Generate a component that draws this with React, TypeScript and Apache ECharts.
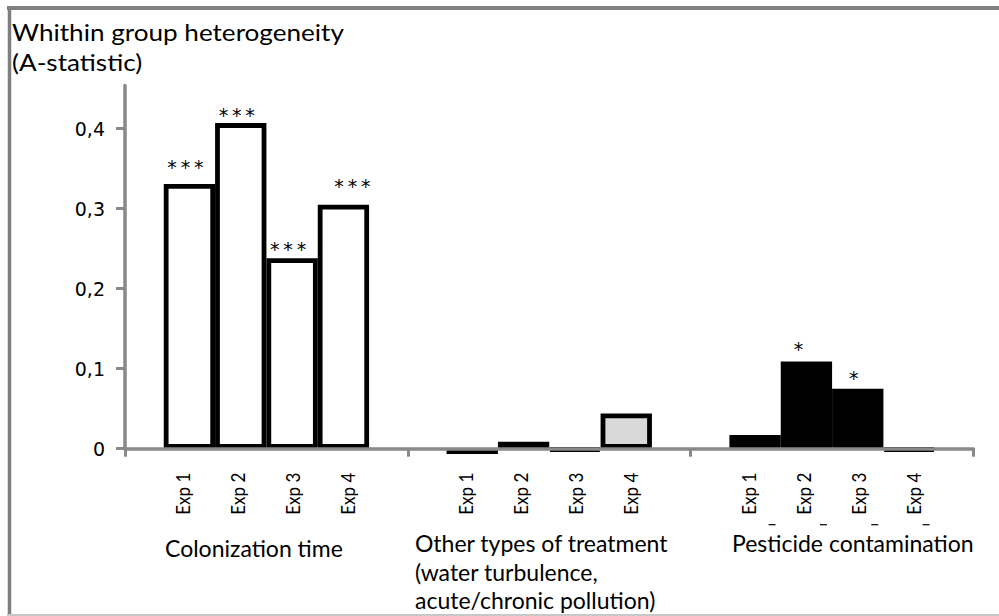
import React, { useEffect, useRef } from "react";
import * as echarts from "echarts";

// ---- data ----
const groupNames = ["Colonization time", "Other types of treatment", "Pesticide contamination"];
const groupTitleLines = [
  ["Colonization time"],
  ["Other types of treatment", "(water turbulence,", "acute/chronic pollution)"],
  ["Pesticide contamination"],
];
const expLabels = ["Exp 1", "Exp 2", "Exp 3", "Exp 4"];
const colonization = [0.331, 0.407, 0.238, 0.305];
const otherTreatment = [-0.0066, 0.0088, -0.002, 0.044];
const pesticide = [0.017, 0.109, 0.075, -0.002];
const colonizationSig = ["***", "***", "***", "***"];
const otherSig = ["", "", "", ""];
const pesticideSig = ["", "*", "*", ""];
const yTickValues = [0, 0.1, 0.2, 0.3, 0.4];
const yTickLabels = ["0", "0,1", "0,2", "0,3", "0,4"];
const titleLines = ["Whithin group heterogeneity", "(A-statistic)"];

// ---- layout / style ----
const groupValues = [colonization, otherTreatment, pesticide];
const groupSig = [colonizationSig, otherSig, pesticideSig];
const groupFill = ["#ffffff", "#d9d9d9", "#000000"];
const sigOffsets = [
  [[-4, -2], [-4, 6], [-4, 5], [9, -4]],
  [[0, 0], [0, 0], [0, 0], [0, 0]],
  [[0, 0], [-8, 2], [-4, 4], [0, 0]],
];
const groupTitleLeft = [165, 415, 732];
const groupTitleY = [547.5, 543, 543];
const AXIS = "#898989";
const FONT = "Lato";
const CAT_GAP = 0.274;
const LABEL_STEP = 0.1943;

export default function App() {
  const ref = useRef<HTMLDivElement>(null);
  useEffect(() => {
    if (!ref.current) return;
    const chart = echarts.init(ref.current, undefined, { renderer: "svg" });

    const barSeries = expLabels.map((name, k) => ({
      type: "bar",
      name,
      clip: false,
      barGap: "0%",
      barCategoryGap: CAT_GAP * 100 + "%",
      z: 2,
      label: {
        show: true,
        position: "top",
        distance: 5,
        fontFamily: "DejaVu Sans",
        fontSize: 19,
        color: "#000",
      },
      data: groupValues.map((vals, g) => ({
        value: vals[k],
        itemStyle: { color: groupFill[g], borderColor: "#000", borderWidth: 4.8 },
        label: {
          show: groupSig[g][k] !== "",
          formatter: groupSig[g][k].split("").join("\u2009"),
          offset: sigOffsets[g][k],
        },
      })),
    }));

    const labelData: number[][] = [];
    groupNames.forEach((_, g) => expLabels.forEach((__, k) => labelData.push([g, 0, k])));

    const labelSeries = {
      type: "custom",
      coordinateSystem: "cartesian2d",
      silent: true,
      z: 4,
      encode: { x: 0, y: 1 },
      data: labelData,
      renderItem: (params: any, api: any) => {
        const g = api.value(0);
        const k = api.value(2);
        const base = api.coord([g, 0]);
        const band = api.size([1, 0])[0];
        const x = base[0] + (k - 1.5) * band * LABEL_STEP - 1;
        const y = base[1] + 66;
        const children: any[] = [
          {
            type: "text",
            x,
            y,
            rotation: Math.PI / 2,
            scaleY: 1.15,
            style: {
              text: expLabels[k],
              font: `17px ${FONT}`,
              fill: "#000",
              align: "left",
              verticalAlign: "middle",
            },
          },
        ];
        if (g === 2) {
          const barW = (band * (1 - CAT_GAP)) / 4;
          const bx = base[0] + (k - 1.5) * barW + 17;
          children.push({
            type: "line",
            shape: { x1: bx - 3.5, y1: base[1] + 76, x2: bx + 3.5, y2: base[1] + 76 },
            style: { stroke: "#000", lineWidth: 1.2 },
          });
        }
        return { type: "group", children };
      },
    };

    const graphics: any[] = [
      // frame
      { type: "line", shape: { x1: 7, y1: 8, x2: 999, y2: 8 }, style: { stroke: "#7f7f7f", lineWidth: 4 } },
      { type: "line", shape: { x1: 9.5, y1: 6, x2: 9.5, y2: 616 }, style: { stroke: "#7f7f7f", lineWidth: 3.5 } },
      { type: "line", shape: { x1: 7, y1: 615, x2: 999, y2: 615 }, style: { stroke: "#c8c8c8", lineWidth: 2 } },
    ];
    titleLines.forEach((t, i) => {
      graphics.push({
        type: "text",
        x: 12,
        y: 32.5 + i * 30,
        scaleX: 1.135,
        style: { text: t, font: `23px ${FONT}`, fill: "#000", verticalAlign: "middle" },
      });
    });
    groupTitleLines.forEach((lines, g) => {
      lines.forEach((t, i) => {
        graphics.push({
          type: "text",
          x: groupTitleLeft[g],
          y: groupTitleY[g] + i * 28.5,
          style: { text: t, font: `23px ${FONT}`, fill: "#000", verticalAlign: "middle" },
        });
      });
    });

    chart.setOption({
      animation: false,
      backgroundColor: "#ffffff",
      grid: { left: 125, right: 25.5, top: 85.5, bottom: 167.3, containLabel: false },
      xAxis: {
        type: "category",
        data: groupNames,
        boundaryGap: true,
        z: 5,
        axisLine: { show: true, lineStyle: { color: AXIS, width: 3.5 } },
        axisTick: { show: true, length: 8, inside: false, lineStyle: { color: AXIS, width: 3 } },
        axisLabel: { show: false },
        splitLine: { show: false },
      },
      yAxis: {
        type: "value",
        min: 0,
        max: 0.454,
        interval: 0.1,
        z: 5,
        axisLine: { show: true, lineStyle: { color: AXIS, width: 3.5 } },
        axisTick: { show: true, length: 9, customValues: yTickValues, lineStyle: { color: AXIS, width: 3 } },
        axisLabel: {
          show: true,
          customValues: yTickValues,
          margin: 20,
          fontFamily: "DejaVu Sans",
          fontSize: 19,
          color: "#000",
          formatter: (v: number) => {
            const i = yTickValues.findIndex((t) => Math.abs(t - v) < 1e-9);
            return i >= 0 ? yTickLabels[i] : "";
          },
        },
        splitLine: { show: false },
      },
      graphic: graphics,
      series: [...barSeries, labelSeries],
    });
    return () => chart.dispose();
  }, []);
  return (
    <div
      ref={ref}
      style={{ position: "fixed", left: 0, top: 0, width: 999, height: 616 }}
    />
  );
}
